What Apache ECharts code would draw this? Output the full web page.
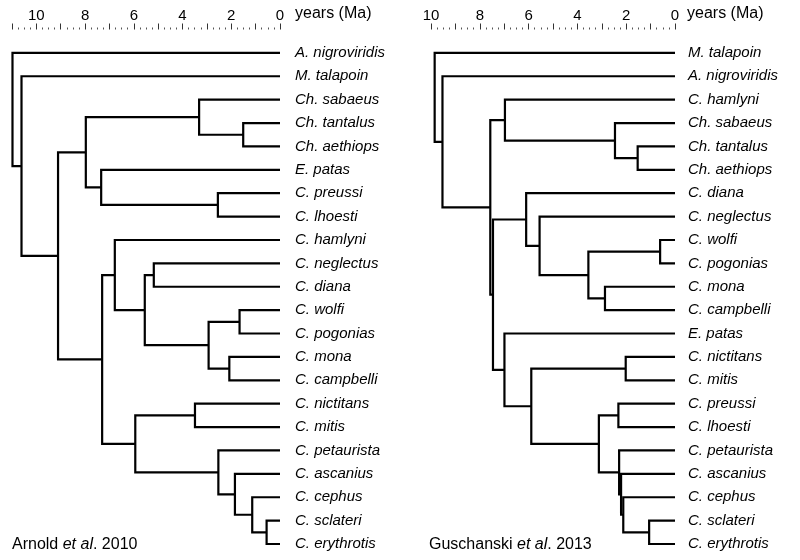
<!DOCTYPE html>
<html>
<head>
<meta charset="utf-8">
<script src="https://cdn.jsdelivr.net/npm/echarts@6/dist/echarts.min.js"></script>
<style>html,body{margin:0;padding:0;background:#fff}#c{width:800px;height:560px}</style>
</head>
<body>
<div id="c"></div>
<script>
// ---- Data ----
const leftLeaves = ['A. nigroviridis','M. talapoin','Ch. sabaeus','Ch. tantalus','Ch. aethiops','E. patas','C. preussi','C. lhoesti','C. hamlyni','C. neglectus','C. diana','C. wolfi','C. pogonias','C. mona','C. campbelli','C. nictitans','C. mitis','C. petaurista','C. ascanius','C. cephus','C. sclateri','C. erythrotis'];
// [node, age (Ma), child A, child B]
const leftNodes = [
  ['n1', 10.98, 'A. nigroviridis', 'n2'],
  ['n2', 10.61, 'M. talapoin', 'n3'],
  ['n3', 9.11, 'n4', 'n9'],
  ['n4', 7.97, 'n5', 'n7'],
  ['n5', 3.32, 'Ch. sabaeus', 'n6'],
  ['n6', 1.51, 'Ch. tantalus', 'Ch. aethiops'],
  ['n7', 7.34, 'E. patas', 'n8'],
  ['n8', 2.55, 'C. preussi', 'C. lhoesti'],
  ['n9', 7.30, 'n10', 'n16'],
  ['n10', 6.78, 'C. hamlyni', 'n11'],
  ['n11', 5.55, 'n12', 'n13'],
  ['n12', 5.18, 'C. neglectus', 'C. diana'],
  ['n13', 2.93, 'n14', 'n15'],
  ['n14', 1.66, 'C. wolfi', 'C. pogonias'],
  ['n15', 2.08, 'C. mona', 'C. campbelli'],
  ['n16', 5.94, 'n17', 'n18'],
  ['n17', 3.49, 'C. nictitans', 'C. mitis'],
  ['n18', 2.53, 'C. petaurista', 'n19'],
  ['n19', 1.85, 'C. ascanius', 'n20'],
  ['n20', 1.14, 'C. cephus', 'n21'],
  ['n21', 0.55, 'C. sclateri', 'C. erythrotis']
];
const rightLeaves = ['M. talapoin','A. nigroviridis','C. hamlyni','Ch. sabaeus','Ch. tantalus','Ch. aethiops','C. diana','C. neglectus','C. wolfi','C. pogonias','C. mona','C. campbelli','E. patas','C. nictitans','C. mitis','C. preussi','C. lhoesti','C. petaurista','C. ascanius','C. cephus','C. sclateri','C. erythrotis'];
const rightNodes = [
  ['r1', 9.85, 'M. talapoin', 'r2'],
  ['r2', 9.53, 'A. nigroviridis', 'r3'],
  ['r3', 7.57, 'r4', 'r7'],
  ['r4', 6.97, 'C. hamlyni', 'r5'],
  ['r5', 2.46, 'Ch. sabaeus', 'r6'],
  ['r6', 1.53, 'Ch. tantalus', 'Ch. aethiops'],
  ['r7', 7.46, 'r8', 'r13'],
  ['r8', 6.10, 'C. diana', 'r9'],
  ['r9', 5.55, 'C. neglectus', 'r10'],
  ['r10', 3.55, 'r11', 'r12'],
  ['r11', 0.61, 'C. wolfi', 'C. pogonias'],
  ['r12', 2.87, 'C. mona', 'C. campbelli'],
  ['r13', 6.99, 'E. patas', 'r14'],
  ['r14', 5.89, 'r15', 'r16'],
  ['r15', 2.02, 'C. nictitans', 'C. mitis'],
  ['r16', 3.12, 'r17', 'r18'],
  ['r17', 2.32, 'C. preussi', 'C. lhoesti'],
  ['r18', 2.29, 'C. petaurista', 'r19'],
  ['r19', 2.21, 'C. ascanius', 'r20'],
  ['r20', 2.12, 'C. cephus', 'r21'],
  ['r21', 1.06, 'C. sclateri', 'C. erythrotis']
];
const leftMaxAge = 11;
const rightMaxAge = 10;
const axisName = 'years (Ma)';
const leftCaption = ['Arnold ', 'et al', '. 2010'];
const rightCaption = ['Guschanski ', 'et al', '. 2013'];

// ---- Build elbow segments ----
function buildTree(leaves, nodes) {
  const pos = {};
  leaves.forEach((l, i) => { pos[l] = { age: 0, y: i }; });
  const byId = {};
  nodes.forEach(n => { byId[n[0]] = n; });
  function resolve(id) {
    if (pos[id]) return pos[id];
    const n = byId[id];
    const a = resolve(n[2]), b = resolve(n[3]);
    pos[id] = { age: n[1], y: (a.y + b.y) / 2 };
    return pos[id];
  }
  return nodes.map(n => {
    resolve(n[0]);
    const a = pos[n[2]], b = pos[n[3]];
    return [n[1], a.y, b.y, a.age, b.age];
  });
}
const leftData = buildTree(leftLeaves, leftNodes);
const rightData = buildTree(rightLeaves, rightNodes);

const FONT = '"Liberation Sans", Arial, sans-serif';

function renderElbow(params, api) {
  const age = api.value(0), yA = api.value(1), yB = api.value(2), ageA = api.value(3), ageB = api.value(4);
  const p1 = api.coord([ageA, yA]);
  const p2 = api.coord([age, yA]);
  const p3 = api.coord([age, yB]);
  const p4 = api.coord([ageB, yB]);
  return {
    type: 'polyline',
    shape: { points: [p1, p2, p3, p4] },
    style: { stroke: '#000', lineWidth: 2.2, fill: null, lineJoin: 'miter' }
  };
}

function xAxisFor(idx, maxAge) {
  return {
    gridIndex: idx, type: 'value', min: 0, max: maxAge, interval: 1, inverse: true,
    position: 'top',
    axisLine: { show: false, onZero: false },
    axisTick: { show: true, length: 6, lineStyle: { color: '#333', width: 1 } },
    minorTick: { show: true, splitNumber: 4, length: 2, lineStyle: { color: '#555', width: 1 } },
    splitLine: { show: false },
    axisLabel: {
      margin: 6, fontSize: 15, color: '#000', fontFamily: FONT,
      formatter: v => (v % 2 === 0 ? String(v) : '')
    }
  };
}
function yAxisFor(idx, leaves, margin) {
  return {
    gridIndex: idx, type: 'value', min: -1, max: leaves.length - 1, interval: 1, inverse: true,
    position: 'right',
    axisLine: { show: false, onZero: false }, axisTick: { show: false }, splitLine: { show: false },
    axisLabel: {
      margin: margin, fontSize: 15, fontStyle: 'italic', color: '#000', fontFamily: FONT,
      formatter: v => (v >= 0 && leaves[v]) ? leaves[v] : ''
    }
  };
}

const chart = echarts.init(document.getElementById('c'), null, { renderer: 'canvas' });
chart.setOption({
  backgroundColor: '#fff',
  animation: false,
  grid: [
    { left: 12, right: 520, top: 29.5, bottom: 16 },
    { left: 431, right: 125, top: 29.5, bottom: 16 }
  ],
  xAxis: [xAxisFor(0, leftMaxAge), xAxisFor(1, rightMaxAge)],
  yAxis: [yAxisFor(0, leftLeaves, 15), yAxisFor(1, rightLeaves, 13)],
  series: [
    { type: 'custom', xAxisIndex: 0, yAxisIndex: 0, renderItem: renderElbow, data: leftData, encode: { x: [0, 3, 4], y: [1, 2] }, clip: false, silent: true },
    { type: 'custom', xAxisIndex: 1, yAxisIndex: 1, renderItem: renderElbow, data: rightData, encode: { x: [0, 3, 4], y: [1, 2] }, clip: false, silent: true }
  ],
  graphic: [
    { type: 'text', left: 295, top: 6, style: { text: axisName, fontSize: 16, fill: '#000', fontFamily: FONT } },
    { type: 'text', left: 687, top: 6, style: { text: axisName, fontSize: 16, fill: '#000', fontFamily: FONT } },
    { type: 'text', left: 12, top: 537, style: {
      text: leftCaption[0] + '{i|' + leftCaption[1] + '}' + leftCaption[2], fontSize: 16, fill: '#000', fontFamily: FONT,
      rich: { i: { fontStyle: 'italic', fontSize: 16, fontFamily: FONT } } } },
    { type: 'text', left: 429, top: 537, style: {
      text: rightCaption[0] + '{i|' + rightCaption[1] + '}' + rightCaption[2], fontSize: 16, fill: '#000', fontFamily: FONT,
      rich: { i: { fontStyle: 'italic', fontSize: 16, fontFamily: FONT } } } }
  ]
});
</script>
</body>
</html>
